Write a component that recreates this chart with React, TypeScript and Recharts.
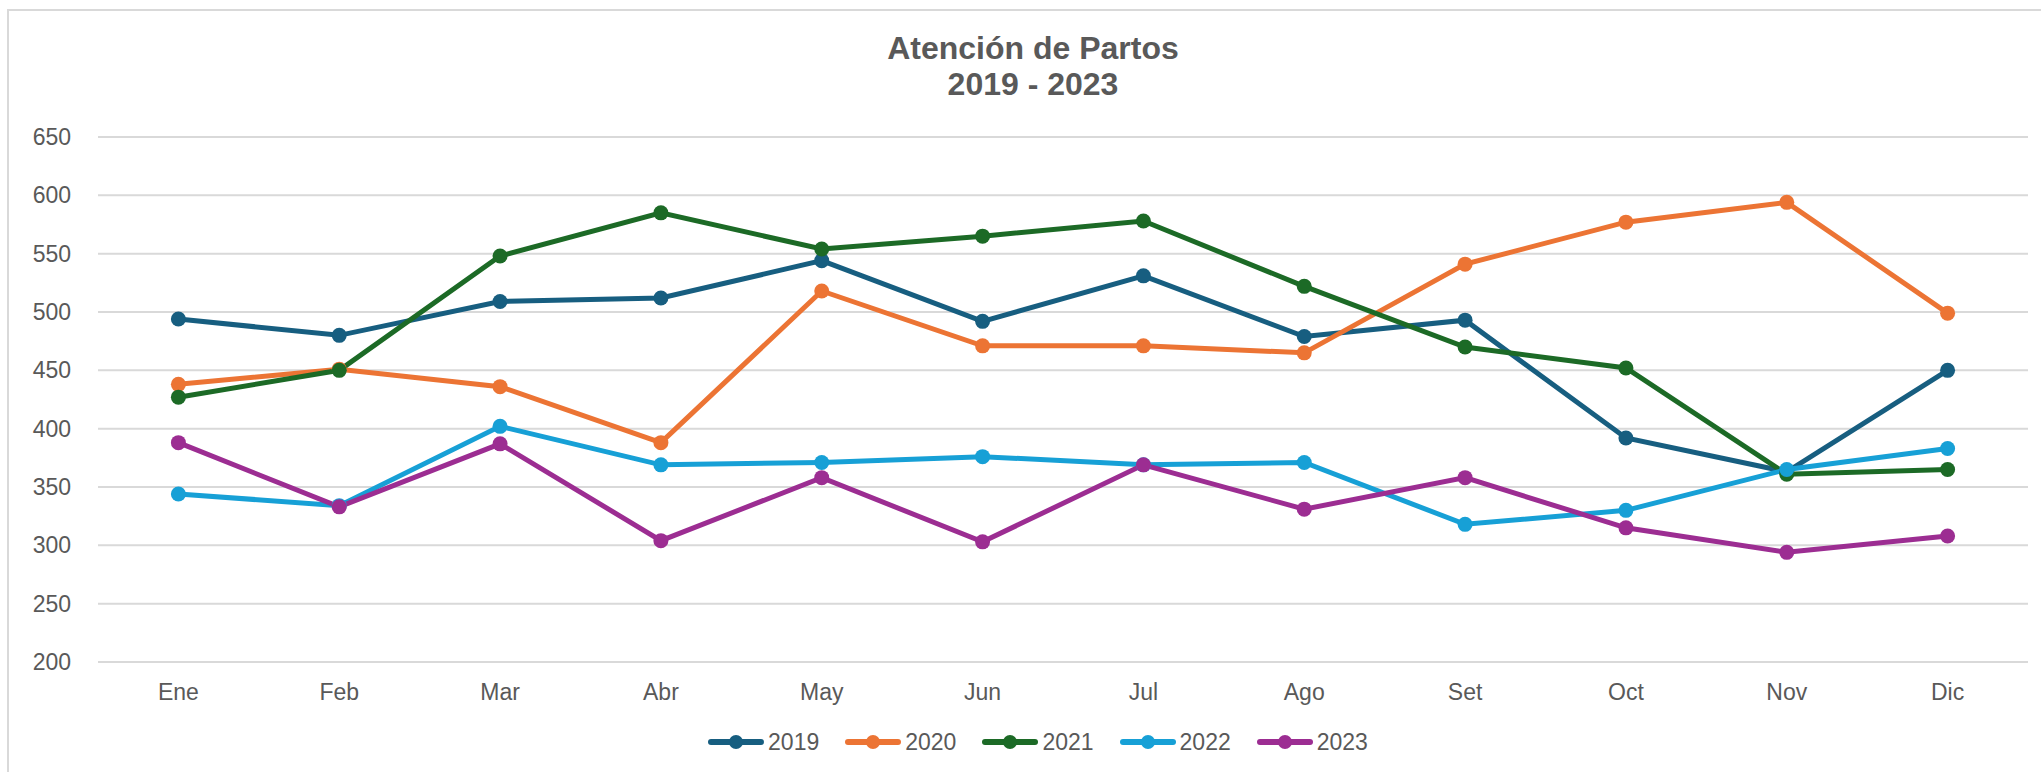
import { LineChart, Line, XAxis, YAxis, CartesianGrid, Legend } from "recharts"

const months = ["Ene", "Feb", "Mar", "Abr", "May", "Jun", "Jul", "Ago", "Set", "Oct", "Nov", "Dic"]

const y2019 = [494, 480, 509, 512, 544, 492, 531, 479, 493, 392, 363, 450]
const y2020 = [438, 451, 436, 388, 518, 471, 471, 465, 541, 577, 594, 499]
const y2021 = [427, 450, 548, 585, 554, 565, 578, 522, 470, 452, 361, 365]
const y2022 = [344, 334, 402, 369, 371, 376, 369, 371, 318, 330, 365, 383]
const y2023 = [388, 333, 387, 304, 358, 303, 369, 331, 358, 315, 294, 308]

const yTicks = [200, 250, 300, 350, 400, 450, 500, 550, 600, 650]

const series = [
  { key: "2019", values: y2019, color: "#175e80" },
  { key: "2020", values: y2020, color: "#ec7434" },
  { key: "2021", values: y2021, color: "#1c6a26" },
  { key: "2022", values: y2022, color: "#17a0d6" },
  { key: "2023", values: y2023, color: "#9c2d92" },
]

const data = months.map((m, i) => {
  const row: Record<string, string | number> = { month: m }
  series.forEach((s) => (row[s.key] = s.values[i]))
  return row
})

const FONT = '"Liberation Sans", Arial, sans-serif'
const TEXT = "#595959"

function LegendContent() {
  return (
    <div style={{ display: "flex", justifyContent: "center", gap: 26, fontFamily: FONT }}>
      {series.map((s) => (
        <div key={s.key} style={{ display: "flex", alignItems: "center", gap: 4 }}>
          <svg width={56} height={28}>
            <line x1={3} y1={14} x2={53} y2={14} stroke={s.color} strokeWidth={6} strokeLinecap="round" />
            <circle cx={28} cy={14} r={7} fill={s.color} />
          </svg>
          <span style={{ fontSize: 23, color: TEXT, lineHeight: "28px" }}>{s.key}</span>
        </div>
      ))}
    </div>
  )
}

export default function App() {
  return (
    <div style={{ position: "relative", width: 2041, height: 772, overflow: "hidden", background: "#fff" }}>
      <style>{`body{margin:0}`}</style>
      <div
        style={{
          position: "absolute",
          left: 7,
          top: 9,
          width: 2100,
          height: 800,
          borderLeft: "2px solid #d9d9d9",
          borderTop: "2px solid #d9d9d9",
        }}
      />
      <div
        style={{
          position: "absolute",
          top: 31,
          left: 733,
          width: 600,
          textAlign: "center",
          fontFamily: FONT,
          fontWeight: "bold",
          fontSize: 32,
          lineHeight: "35.5px",
          color: TEXT,
        }}
      >
        Atención de Partos
        <br />
        2019 - 2023
      </div>
      <div style={{ position: "absolute", left: 0, top: 0 }}>
        <LineChart
          width={2041}
          height={772}
          data={data}
          margin={{ top: 137, right: 13, bottom: 50, left: 38 }}
        >
          <CartesianGrid vertical={false} stroke="#d9d9d9" strokeWidth={2} />
          <XAxis
            dataKey="month"
            height={60}
            axisLine={false}
            tickLine={false}
            tickSize={0}
            tickMargin={22}
            interval={0}
            padding={{ left: 80.4, right: 80.4 }}
            tick={{ fontSize: 23, fill: TEXT, fontFamily: FONT }}
          />
          <YAxis
            width={60}
            domain={[200, 650]}
            ticks={yTicks}
            interval={0}
            axisLine={false}
            tickLine={false}
            tickSize={0}
            tickMargin={27}
            tick={{ fontSize: 23, fill: TEXT, fontFamily: FONT }}
          />
          <Legend
            layout="horizontal"
            verticalAlign="middle"
            align="center"
            wrapperStyle={{ top: 728, left: 30, width: 2016 }}
            content={<LegendContent />}
          />
          {series.map((s) => (
            <Line
              key={s.key}
              type="linear"
              dataKey={s.key}
              stroke={s.color}
              strokeWidth={5}
              dot={{ r: 7.5, fill: s.color, stroke: "none" }}
              activeDot={false}
              isAnimationActive={false}
            />
          ))}
        </LineChart>
      </div>
    </div>
  )
}
